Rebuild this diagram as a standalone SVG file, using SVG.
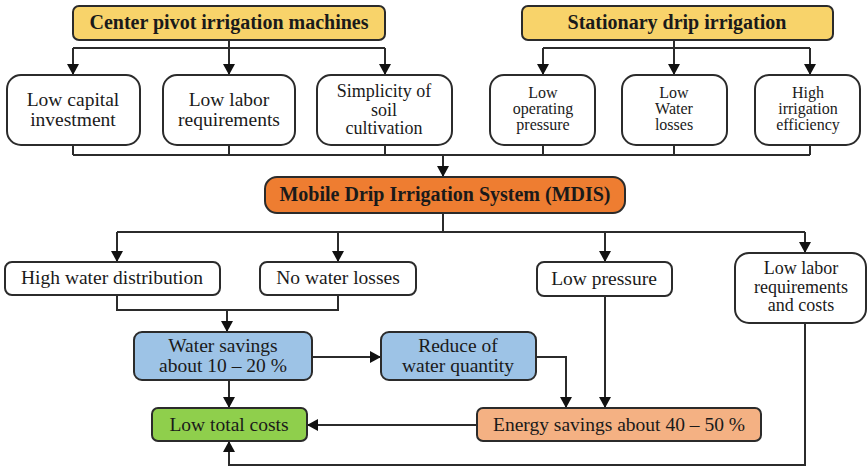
<svg xmlns="http://www.w3.org/2000/svg" width="868" height="468" viewBox="0 0 868 468">
<style>
.box{stroke:#2b2b2b;stroke-width:2}
.w{fill:#ffffff}
.y{fill:#F8D36A}
.o{fill:#EE7D31}
.b{fill:#9DC3E6}
.g{fill:#8FCF4C}
.p{fill:#F4B183}
text{font-family:"Liberation Serif","Times New Roman",serif;fill:#1a1a1a;text-anchor:middle}
.t{font-size:19.5px}
.t3{font-size:18px}
.s{font-size:16px}
.bd{font-size:20px;font-weight:bold}
.c{fill:none;stroke:#2b2b2b;stroke-width:2}
</style>
<defs>
<marker id="ah" markerUnits="userSpaceOnUse" markerWidth="12" markerHeight="12" refX="11" refY="6" orient="auto">
<path d="M0,0 L11,6 L0,12 z" fill="#111"/>
</marker>
</defs>
<rect width="868" height="468" fill="#ffffff"/>
<g id="connectors">
<path class="c" d="M229,40 V48 M73,48 H385 M674,40 V48 M543,48 H810"/>
<path class="c" d="M73,48 V75" marker-end="url(#ah)"/>
<path class="c" d="M229,48 V75" marker-end="url(#ah)"/>
<path class="c" d="M385,48 V75" marker-end="url(#ah)"/>
<path class="c" d="M543,48 V75" marker-end="url(#ah)"/>
<path class="c" d="M674,48 V75" marker-end="url(#ah)"/>
<path class="c" d="M810,48 V75" marker-end="url(#ah)"/>
<path class="c" d="M73,145 V155 M229,145 V155 M385,145 V155 M543,145 V155 M674,145 V155 M810,145 V155 M73,155 H810"/>
<path class="c" d="M443,155 V177" marker-end="url(#ah)"/>
<path class="c" d="M443,213 V232 M117,232 H805"/>
<path class="c" d="M117,232 V262" marker-end="url(#ah)"/>
<path class="c" d="M338,232 V262" marker-end="url(#ah)"/>
<path class="c" d="M605,232 V262" marker-end="url(#ah)"/>
<path class="c" d="M805,232 V253" marker-end="url(#ah)"/>
<path class="c" d="M117,295 V310 H338 V295"/>
<path class="c" d="M227,310 V332" marker-end="url(#ah)"/>
<path class="c" d="M229,380 V408" marker-end="url(#ah)"/>
<path class="c" d="M312,357 H381" marker-end="url(#ah)"/>
<path class="c" d="M536,357 H566 V408" marker-end="url(#ah)"/>
<path class="c" d="M605,296 V408" marker-end="url(#ah)"/>
<path class="c" d="M477,425 H307" marker-end="url(#ah)"/>
<path class="c" d="M805,323 V465 H229 V441" marker-end="url(#ah)"/>
</g>
<g id="center-pivot"><rect class="box y" x="73" y="6" width="312" height="34" rx="6"/><text class="bd" x="229" y="29">Center pivot irrigation machines</text></g>
<g id="stationary-drip"><rect class="box y" x="522" y="6" width="311" height="34" rx="6"/><text class="bd" x="677" y="29">Stationary drip irrigation</text></g>
<g id="low-capital"><rect class="box w" x="7" y="75" width="133" height="70" rx="14"/><text class="t" x="73" y="106">Low capital</text><text class="t" x="73" y="126">investment</text></g>
<g id="low-labor"><rect class="box w" x="163" y="75" width="132" height="70" rx="14"/><text class="t" x="229" y="106">Low labor</text><text class="t" x="229" y="126">requirements</text></g>
<g id="simplicity"><rect class="box w" x="317" y="75" width="135" height="70" rx="14"/><text class="t3" x="384" y="97">Simplicity of</text><text class="t3" x="384" y="115.5">soil</text><text class="t3" x="384" y="134">cultivation</text></g>
<g id="low-operating"><rect class="box w" x="490" y="75" width="105" height="70" rx="14"/><text class="s" x="543" y="98">Low</text><text class="s" x="543" y="114">operating</text><text class="s" x="543" y="130">pressure</text></g>
<g id="low-water-losses"><rect class="box w" x="622" y="75" width="105" height="70" rx="14"/><text class="s" x="674" y="98">Low</text><text class="s" x="674" y="114">Water</text><text class="s" x="674" y="130">losses</text></g>
<g id="high-efficiency"><rect class="box w" x="755" y="75" width="105" height="70" rx="14"/><text class="s" x="808" y="98">High</text><text class="s" x="808" y="114">irrigation</text><text class="s" x="808" y="130">efficiency</text></g>
<g id="mdis"><rect class="box o" x="265" y="177" width="360" height="36" rx="12"/><text class="bd" x="445" y="201">Mobile Drip Irrigation System (MDIS)</text></g>
<g id="high-water-distribution"><rect class="box w" x="5" y="262" width="215" height="33" rx="7"/><text class="t" x="112" y="284">High water distribution</text></g>
<g id="no-water-losses"><rect class="box w" x="260" y="262" width="156" height="33" rx="7"/><text class="t" x="338" y="284">No water losses</text></g>
<g id="low-pressure"><rect class="box w" x="537" y="262" width="135" height="34" rx="7"/><text class="t" x="604" y="285">Low pressure</text></g>
<g id="low-labor-costs"><rect class="box w" x="735" y="253" width="131" height="70" rx="14"/><text class="t3" x="801" y="274">Low labor</text><text class="t3" x="801" y="292.5">requirements</text><text class="t3" x="801" y="311">and costs</text></g>
<g id="water-savings"><rect class="box b" x="134" y="332" width="178" height="48" rx="8"/><text class="t" x="223" y="352">Water savings</text><text class="t" x="223" y="372">about 10 – 20 %</text></g>
<g id="reduce-water"><rect class="box b" x="381" y="332" width="155" height="48" rx="8"/><text class="t" x="458" y="352">Reduce of</text><text class="t" x="458" y="372">water quantity</text></g>
<g id="low-total-costs"><rect class="box g" x="152" y="408" width="155" height="33" rx="6"/><text class="t" x="229" y="431">Low total costs</text></g>
<g id="energy-savings"><rect class="box p" x="477" y="408" width="284" height="33" rx="6"/><text class="t" x="619" y="431">Energy savings about 40 – 50 %</text></g>
</svg>
